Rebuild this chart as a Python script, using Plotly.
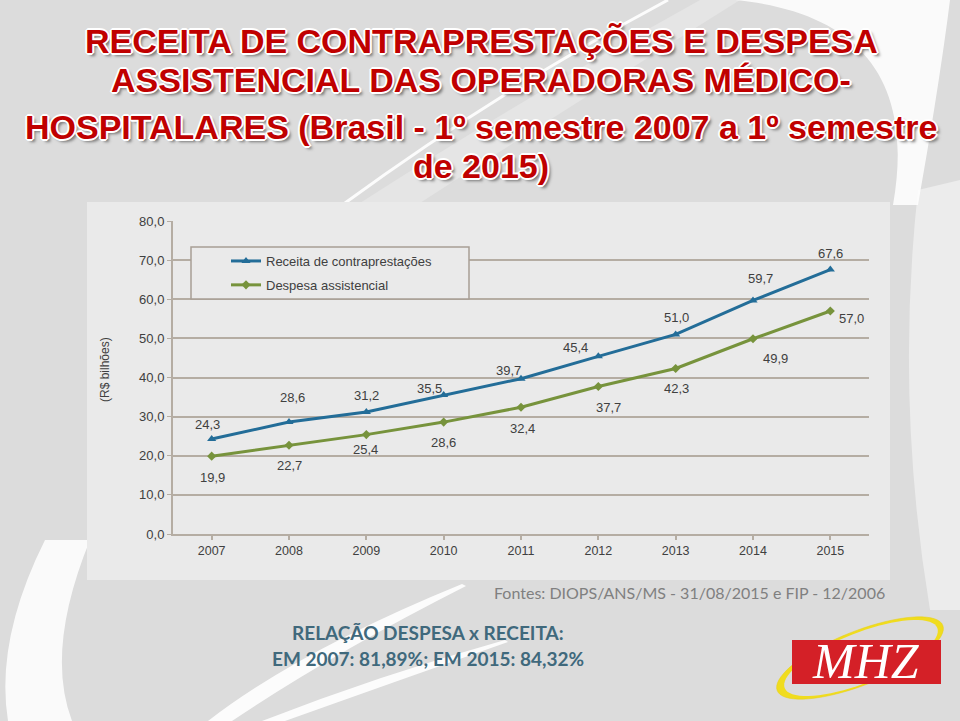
import math
import plotly.graph_objects as go

years = ["2007", "2008", "2009", "2010", "2011", "2012", "2013", "2014", "2015"]
receita = [24.3, 28.6, 31.2, 35.5, 39.7, 45.4, 51.0, 59.7, 67.6]
despesa = [19.9, 22.7, 25.4, 28.6, 32.4, 37.7, 42.3, 49.9, 57.0]
y_ticks = [0, 10, 20, 30, 40, 50, 60, 70, 80]

# label offsets in pixels (dx, dy screen-down) — styling only
receita_off = [(-4, -14), (3, -25), (0, -16), (-14, -7), (-13, -8), (-23, -9), (1, -17), (7, -22), (0, -16)]
despesa_off = [(1, 21), (0, 20), (-1, 15), (0, 20), (1, 21), (10, 21), (1, 20), (22, 20), (21, 8)]

W, H = 960, 721
L, R, T, B = 173, 869, 221, 534


def px(x):
    return (x - L) / (R - L)


def py(y):
    return (B - y) / (B - T)


def fmt(v):
    return f"{v:.1f}".replace(".", ",")


BLUE = "#236d98"
GREEN = "#77933c"
GRID = "#b5ada3"
TXT = "#404040"
LBL = dict(family="Liberation Sans, Arial", size=13, color=TXT)

fig = go.Figure()
fig.add_trace(go.Scatter(
    x=years, y=receita, name="Receita de contraprestações", mode="lines+markers",
    line=dict(color=BLUE, width=3), marker=dict(symbol="triangle-up", size=8, color=BLUE),
    legendgroup="a", cliponaxis=False,
))
fig.add_trace(go.Scatter(
    x=years, y=despesa, name="Despesa assistencial", mode="lines+markers",
    line=dict(color=GREEN, width=3), marker=dict(symbol="diamond", size=7, color=GREEN),
    legendgroup="b", cliponaxis=False,
))

annotations = []
# category axes take the category's serial index for annotation positions
for i, (v, (dx, dy)) in enumerate(zip(receita, receita_off)):
    annotations.append(dict(x=i, y=v, xref="x", yref="y", text=fmt(v), showarrow=False,
                            xshift=dx, yshift=-dy, font=LBL))
for i, (v, (dx, dy)) in enumerate(zip(despesa, despesa_off)):
    annotations.append(dict(x=i, y=v, xref="x", yref="y", text=fmt(v), showarrow=False,
                            xshift=dx, yshift=-dy, font=LBL))


def ellipse_path(cx, cy, a, b, ang_deg, n=72):
    th = math.radians(ang_deg)
    ux, uy = math.cos(th), math.sin(th)
    vx, vy = -uy, ux
    pts = []
    for k in range(n):
        t = 2 * math.pi * k / n
        x = cx + a * math.cos(t) * ux + b * math.sin(t) * vx
        y = cy + a * math.cos(t) * uy + b * math.sin(t) * vy
        pts.append((px(x), py(y)))
    return "M " + " L ".join(f"{p[0]},{p[1]}" for p in pts) + " Z"


shapes = []
# background swooshes
shapes.append(dict(type="path", xref="paper", yref="paper", layer="below",
                   path=(f"M {px(735)},{py(0)} C {px(860)},{py(12)} {px(915)},{py(80)} {px(893)},{py(205)} "
                         f"L {px(918)},{py(205)} C {px(935)},{py(110)} {px(945)},{py(40)} {px(950)},{py(0)} Z"),
                   fillcolor="rgba(255,255,255,0.85)", line=dict(width=0)))
shapes.append(dict(type="path", xref="paper", yref="paper", layer="below",
                   path=f"M {px(668)},{py(0)} Q {px(500)},{py(90)} {px(345)},{py(203)}",
                   line=dict(color="rgba(255,255,255,0.9)", width=3)))
shapes.append(dict(type="path", xref="paper", yref="paper", layer="below",
                   path=f"M {px(700)},{py(0)} Q {px(520)},{py(100)} {px(360)},{py(203)} L {px(420)},{py(203)} Q {px(580)},{py(100)} {px(740)},{py(0)} Z",
                   fillcolor="rgba(255,255,255,0.25)", line=dict(width=0)))
shapes.append(dict(type="path", xref="paper", yref="paper", layer="below",
                   path=f"M {px(918)},{py(190)} Q {px(895)},{py(400)} {px(930)},{py(610)} L {px(960)},{py(610)} L {px(960)},{py(180)} Z",
                   fillcolor="rgba(255,255,255,0.45)", line=dict(width=0)))
shapes.append(dict(type="path", xref="paper", yref="paper", layer="below",
                   path=f"M {px(462)},{py(584)} Q {px(300)},{py(650)} {px(208)},{py(721)} L {px(232)},{py(721)} Q {px(330)},{py(655)} {px(466)},{py(586)} Z",
                   fillcolor="rgba(255,255,255,0.9)", line=dict(width=0)))
shapes.append(dict(type="path", xref="paper", yref="paper", layer="below",
                   path=f"M {px(505)},{py(640)} Q {px(380)},{py(675)} {px(262)},{py(721)} L {px(285)},{py(721)} Q {px(400)},{py(680)} {px(508)},{py(642)} Z",
                   fillcolor="rgba(255,255,255,0.9)", line=dict(width=0)))
shapes.append(dict(type="path", xref="paper", yref="paper", layer="below",
                   path=f"M {px(45)},{py(540)} Q {px(-5)},{py(640)} {px(8)},{py(721)} L {px(72)},{py(721)} Q {px(45)},{py(650)} {px(90)},{py(540)} Z",
                   fillcolor="rgba(255,255,255,0.85)", line=dict(width=0)))
# chart panel
shapes.append(dict(type="rect", xref="paper", yref="paper", layer="below",
                   x0=px(87), x1=px(890), y0=py(580), y1=py(202),
                   fillcolor="#eaeaea", line=dict(width=0)))
# legend box
shapes.append(dict(type="rect", xref="paper", yref="paper", layer="above",
                   x0=px(191), x1=px(469), y0=py(299), y1=py(247),
                   fillcolor="#eaeaea", line=dict(color="#a89f95", width=1.5)))
# logo: ring behind red box
shapes.append(dict(type="path", xref="paper", yref="paper", layer="above",
                   path=ellipse_path(860, 658, 89, 27, -21.5), fillcolor="#f0dc1e",
                   line=dict(color="#e6cf10", width=0.5)))
shapes.append(dict(type="path", xref="paper", yref="paper", layer="above",
                   path=ellipse_path(861, 658, 82, 25, -21.5), fillcolor="#dcdcdc",
                   line=dict(width=0)))
shapes.append(dict(type="rect", xref="paper", yref="paper", layer="above",
                   x0=px(792), x1=px(941), y0=py(684), y1=py(640),
                   fillcolor="#d42027", line=dict(width=0)))

title_lines = [
    ("RECEITA DE CONTRAPRESTAÇÕES E DESPESA", 41),
    ("ASSISTENCIAL DAS OPERADORAS MÉDICO-", 80),
    ("HOSPITALARES (Brasil - 1º semestre 2007 a 1º semestre", 127),
    ("de 2015)", 166),
]
shadow = ("-1px -1px 0 #fff, 1px -1px 0 #fff, -1px 1px 0 #fff, 1px 1px 0 #fff, "
          "0 -2px 0 #fff, 0 2px 0 #fff, -2px 0 0 #fff, 2px 0 0 #fff, 3px 3px 3px #777")
for txt, yy in title_lines:
    annotations.append(dict(text=f"<b>{txt}</b>", xref="paper", yref="paper", x=px(481), y=py(yy),
                            xanchor="center", yanchor="middle", showarrow=False,
                            font=dict(family="Liberation Sans, Arial", size=34,
                                      color="#c00000", shadow=shadow)))
annotations.append(dict(text="(R$ bilhões)", xref="paper", yref="paper", x=px(105), y=py(370),
                        textangle=-90, showarrow=False, xanchor="center", yanchor="middle",
                        font=dict(family="Liberation Sans, Arial", size=12, color=TXT)))
annotations.append(dict(text="Fontes: DIOPS/ANS/MS - 31/08/2015 e FIP - 12/2006", xref="paper", yref="paper",
                        x=px(887), y=py(592), xanchor="right", yanchor="middle", showarrow=False,
                        font=dict(family="Lato, Open Sans", size=16, color="#808080")))
annotations.append(dict(text="<b>RELAÇÃO DESPESA x RECEITA:</b>", xref="paper", yref="paper",
                        x=px(428), y=py(632), xanchor="center", yanchor="middle", showarrow=False,
                        font=dict(family="Lato, Open Sans", size=19, color="#40697c")))
annotations.append(dict(text="<b>EM 2007: 81,89%; EM 2015: 84,32%</b>", xref="paper", yref="paper",
                        x=px(428), y=py(658), xanchor="center", yanchor="middle", showarrow=False,
                        font=dict(family="Lato, Open Sans", size=19, color="#40697c")))
annotations.append(dict(text="<i>MHZ</i>", xref="paper", yref="paper",
                        x=px(866), y=py(661), xanchor="center", yanchor="middle", showarrow=False,
                        font=dict(family="Liberation Serif, DejaVu Serif", size=50, color="#ffffff")))

fig.update_layout(
    width=W, height=H,
    margin=dict(l=L, r=W - R, t=T, b=H - B, pad=0),
    paper_bgcolor="#dcdcdc", plot_bgcolor="rgba(0,0,0,0)",
    separators=",.",
    showlegend=True,
    legend=dict(x=px(226), y=py(246), xanchor="left", yanchor="top", bgcolor="rgba(0,0,0,0)",
                borderwidth=0, traceorder="grouped", tracegroupgap=4,
                font=dict(family="Liberation Sans, Arial", size=13, color=TXT)),
    shapes=shapes, annotations=annotations,
    font=dict(family="Liberation Sans, Arial", color=TXT),
)
fig.update_xaxes(type="category", range=[-0.5, 8.5], showgrid=False, showline=True, linecolor=GRID,
                 linewidth=2, ticks="outside", ticklen=4, tickcolor=GRID, tickwidth=1.5,
                 tickfont=dict(size=12.5, color=TXT), zeroline=False)
fig.update_yaxes(range=[0, 80], tickvals=y_ticks, tickformat=".1f", showgrid=True, gridcolor=GRID,
                 gridwidth=1.5, showline=True, linecolor=GRID, linewidth=2, ticks="outside", ticklen=4,
                 tickcolor=GRID, tickfont=dict(size=13, color=TXT), zeroline=False)

fig.write_html("out.html", config={"displayModeBar": False},
               post_script="document.body.style.margin='0';document.body.style.overflow='hidden';")
